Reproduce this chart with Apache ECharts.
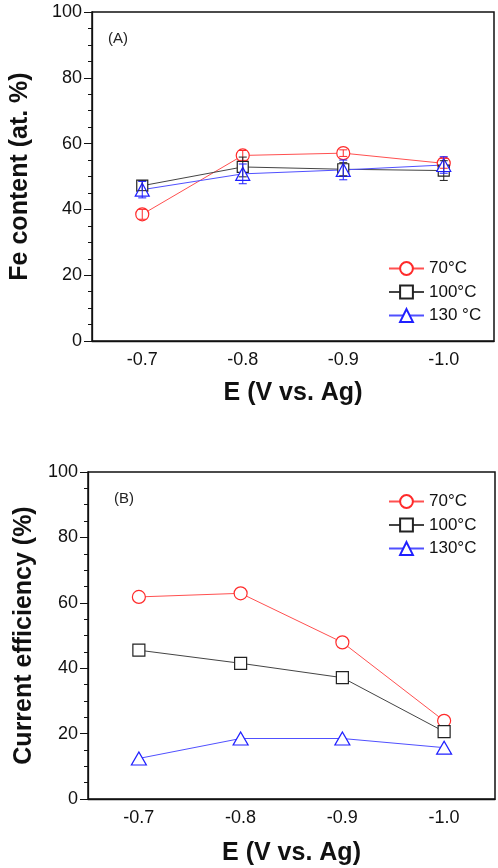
<!DOCTYPE html>
<html><head><meta charset="utf-8">
<script src="https://cdn.jsdelivr.net/npm/echarts@6/dist/echarts.min.js"></script>
<style>html,body{margin:0;padding:0;background:#fff}#c{width:498px;height:868px}</style>
</head><body><div id="c"></div>
<script>
const categories = ['-0.7', '-0.8', '-0.9', '-1.0'];
const seriesNamesA = ['70°C', '100°C', '130 °C'];
const seriesNamesB = ['70°C', '100°C', '130°C'];
const feContent70 = [38.5, 56.4, 57.1, 54.0];
const feContent100 = [47.2, 52.9, 52.2, 51.8];
const feContent130 = [46.0, 50.8, 52.0, 53.5];
const feError70 = [1.5, 1.5, 1.0, 1.5];
const feError100 = [1.5, 3.0, 2.0, 3.0];
const feError130 = [2.5, 3.0, 3.0, 2.5];
const eff70 = [61.8, 62.9, 47.9, 23.9];
const eff100 = [45.5, 41.5, 37.1, 20.6];
const eff130 = [12.4, 18.5, 18.5, 15.7];
const yMin = 0, yMax = 100, yStep = 20;

const RED = '#ff2a2a', BLACK = '#222222', BLUE = '#2020ff';
const LINE_RED = '#ff5050', LINE_BLACK = '#444444', LINE_BLUE = '#5050ff';
const FONT = "'Liberation Sans', Arial, sans-serif";

function errRender(params, api) {
  const x = api.value(0), lo = api.value(1), hi = api.value(2);
  const p1 = api.coord([x, hi]);
  const p2 = api.coord([x, lo]);
  const w = 4;
  const style = { stroke: api.visual('color'), lineWidth: 1 };
  return { type: 'group', children: [
    { type: 'line', shape: { x1: p1[0], y1: p1[1], x2: p2[0], y2: p2[1] }, style },
    { type: 'line', shape: { x1: p1[0] - w, y1: p1[1], x2: p1[0] + w, y2: p1[1] }, style },
    { type: 'line', shape: { x1: p2[0] - w, y1: p2[1], x2: p2[0] + w, y2: p2[1] }, style }
  ]};
}
function errData(vals, errs) {
  return vals.map((v, i) => [i, v - errs[i], v + errs[i]]);
}

function xAxisCfg(gridIndex, gap) {
  return {
    type: 'category', gridIndex, data: categories, boundaryGap: true,
    name: 'E (V vs. Ag)', nameLocation: 'middle', nameGap: gap,
    nameTextStyle: { fontFamily: FONT, fontWeight: 'bold', fontSize: 25, color: '#111' },
    axisLine: { lineStyle: { color: '#111', width: 1.3 } },
    axisTick: { alignWithLabel: true, length: 5, inside: false, lineStyle: { color: '#111' } },
    axisLabel: { fontFamily: FONT, fontSize: 18, color: '#111', margin: 10 },
    splitLine: { show: false }
  };
}
function yAxisCfg(gridIndex, name, gap, size) {
  return {
    type: 'value', gridIndex, min: yMin, max: yMax, interval: yStep,
    name, nameLocation: 'middle', nameGap: gap,
    nameTextStyle: { fontFamily: FONT, fontWeight: 'bold', fontSize: size, color: '#111' },
    axisLine: { show: true, lineStyle: { color: '#111', width: 1.3 } },
    axisTick: { show: true, length: 8, lineStyle: { color: '#111' } },
    minorTick: { show: true, splitNumber: 4, length: 4, lineStyle: { color: '#111' } },
    axisLabel: { fontFamily: FONT, fontSize: 18, color: '#111', margin: 10 },
    splitLine: { show: false }
  };
}
function lineSeries(name, data, xi, symbol, size, color, lineColor) {
  return {
    type: 'line', name, data, xAxisIndex: xi, yAxisIndex: xi,
    symbol, symbolSize: size, showSymbol: true,
    itemStyle: { color: '#fff', borderColor: color, borderWidth: 1.2 },
    lineStyle: { color: lineColor, width: 1 },
    z: 3
  };
}
function errSeries(vals, errs, color) {
  return {
    type: 'custom', name: 'err', xAxisIndex: 0, yAxisIndex: 0,
    renderItem: errRender, data: errData(vals, errs),
    encode: { x: 0, y: [1, 2] },
    itemStyle: { color }, z: 5, silent: true
  };
}

const legendBase = {
  orient: 'vertical', itemWidth: 35, itemHeight: 16, itemGap: 6.5,
  textStyle: { fontFamily: FONT, fontSize: 17, color: '#111' },
  selectedMode: false
};

const option = {
  backgroundColor: '#fff',
  animation: false,
  title: [
    { text: '(A)', left: 103, top: 26, textStyle: { fontFamily: FONT, fontWeight: 'normal', fontSize: 15, color: '#222' } },
    { text: '(B)', left: 109, top: 486, textStyle: { fontFamily: FONT, fontWeight: 'normal', fontSize: 15, color: '#222' } }
  ],
  grid: [
    { left: 85, right: 4, top: 12, bottom: 527, show: true, borderColor: '#111', borderWidth: 1.5, backgroundColor: 'transparent' },
    { left: 88, right: 3, top: 472, bottom: 69, show: true, borderColor: '#111', borderWidth: 1.5, backgroundColor: 'transparent' }
  ],
  legend: [
    Object.assign({}, legendBase, { left: 383, top: 255, data: seriesNamesA }),
    Object.assign({}, legendBase, { left: 383, top: 488, data: seriesNamesB })
  ],
  xAxis: [xAxisCfg(0, 40), xAxisCfg(1, 42)],
  yAxis: [yAxisCfg(0, 'Fe content (at. %)', 59, 25), yAxisCfg(1, 'Current efficiency (%)', 51, 25)],
  series: [
    lineSeries(seriesNamesA[0], feContent70, 0, 'circle', 13, RED, LINE_RED),
    lineSeries(seriesNamesA[1], feContent100, 0, 'rect', 11, BLACK, LINE_BLACK),
    lineSeries(seriesNamesA[2], feContent130, 0, 'triangle', [14, 13], BLUE, LINE_BLUE),
    errSeries(feContent70, feError70, RED),
    errSeries(feContent100, feError100, BLACK),
    errSeries(feContent130, feError130, BLUE),
    lineSeries(seriesNamesB[0], eff70, 1, 'circle', 13, RED, LINE_RED),
    lineSeries(seriesNamesB[1], eff100, 1, 'rect', 12, BLACK, LINE_BLACK),
    lineSeries(seriesNamesB[2], eff130, 1, 'triangle', [15, 13], BLUE, LINE_BLUE)
  ]
};
const chart = echarts.init(document.getElementById('c'), null, { renderer: 'canvas' });
chart.setOption(option);
</script>
</body></html>
